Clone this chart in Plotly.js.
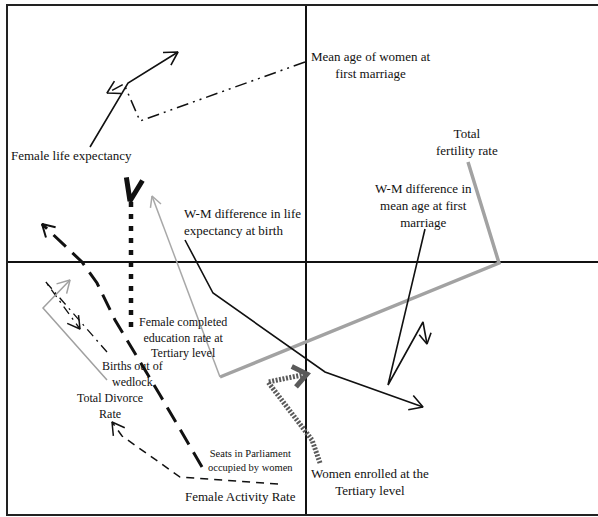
<!DOCTYPE html>
<html>
<head>
<meta charset="utf-8">
<script src="https://cdn.plot.ly/plotly-3.0.1.min.js"></script>
<style>html,body{margin:0;padding:0;background:#fff}</style>
</head>
<body>
<div id="plot" style="width:598px;height:517px"></div>
<script>
// trajectories on the first factorial plane (axis 1 = x, axis 2 = y)
var lifeExpX = [-216, -178, -128];
var lifeExpY = [115, 179, 210];

var marriageAgeX = [-1, -166, -182, -199];
var marriageAgeY = [200, 141, 178, 169];

var wmLifeX = [-121, -93, 19, 117];
var wmLifeY = [22, -31, -110, -145];

var wmMarriageX = [119, 82, 117, 121];
var wmMarriageY = [33, -123, -60, -82];

var fertilityX = [162, 193, -86, -154];
var fertilityY = [100, -1, -115, 66];

var enrolledX = [14, 6, -38, 1];
var enrolledY = [-201, -178, -120, -112];

var completedX = [-175, -175, -176];
var completedY = [-65, 66, 61];

var seatsX = [-104, -146, -191, -209, -224, -264];
var seatsY = [-205, -133, -58, -21, 0, 38];

var activityX = [-28, -126, -184, -194];
var activityY = [-222, -215, -174, -160];

var wedlockX = [-199, -261, -226];
var wedlockY = [-90, -19, -67];

var divorceX = [-199, -263, -236];
var divorceY = [-118, -46, -18];

// labels and where they sit on the plane
var labelText = ["Mean age of women at<br>first marriage", "Female life expectancy",
  "Total<br>fertility rate", "W-M difference in<br>mean age at first<br>marriage",
  "W-M difference in life<br>expectancy at birth",
  "Female completed<br>education rate at<br>Tertiary level",
  "Births out of<br>wedlock", "Total Divorce<br>Rate",
  "Seats in Parliament<br>occupied by women", "Female Activity Rate",
  "Women enrolled at the<br>Tertiary level"];
var labelX = [65, -235, 161, 117, -123, -123, -174, -196, -56, -66, 64];
var labelY = [197, 107, 120, 57, 40, -75, -112, -144, -198, -234, -220];
var labelSize = [13, 13, 13, 13, 13, 12, 12, 12, 10.5, 13, 13];

// open arrow head at the last point of a path
function head(xs, ys, len, half) {
  var n = xs.length, tx = xs[n - 1], ty = ys[n - 1];
  var a = Math.atan2(ys[n - 2] - ty, xs[n - 2] - tx);
  var r = half * Math.PI / 180;
  return {
    x: [tx + len * Math.cos(a + r), tx, tx + len * Math.cos(a - r)],
    y: [ty + len * Math.sin(a + r), ty, ty + len * Math.sin(a - r)]
  };
}

var data = [];
function addPath(xs, ys, color, width, dash, arrow) {
  data.push({x: xs, y: ys, mode: 'lines', type: 'scatter',
    line: {color: color, width: width, dash: dash}});
  if (arrow) {
    var h = head(xs, ys, arrow.len, arrow.half);
    data.push({x: h.x, y: h.y, mode: 'lines', type: 'scatter',
      line: {color: color, width: arrow.width || width}});
  }
}

addPath(fertilityX.slice(0, 3), fertilityY.slice(0, 3), '#a2a2a2', 3.5, 'solid');
addPath(fertilityX.slice(2), fertilityY.slice(2), '#a8a8a8', 1.5, 'solid', {len: 12, half: 28});
addPath(enrolledX, enrolledY, '#5a5a5a', 5, '2px,1.5px', {len: 17, half: 38});
addPath(lifeExpX, lifeExpY, '#111', 1.6, 'solid', {len: 15, half: 30});
addPath(marriageAgeX, marriageAgeY, '#111', 1.5, '12px,5px,2px,5px,2px,5px', {len: 14, half: 30, width: 1.6});
addPath(wmLifeX, wmLifeY, '#111', 1.6, 'solid', {len: 15, half: 30});
addPath(wmMarriageX, wmMarriageY, '#111', 1.6, 'solid', {len: 12, half: 30});
addPath(completedX, completedY, '#111', 4.5, '5px,7px', {len: 24, half: 20, width: 5});
addPath(seatsX, seatsY, '#111', 3, '17px,9px', {len: 14, half: 30, width: 2});
addPath(activityX, activityY, '#111', 1.5, '8px,6px', {len: 14, half: 30});
addPath(wedlockX, wedlockY, '#111', 1.3, '9px,5px,2px,5px', {len: 14, half: 30, width: 1.5});
addPath(divorceX, divorceY, '#a0a0a0', 1.5, 'solid', {len: 14, half: 30});

var annotations = labelText.map(function (t, i) {
  var left = (i === 4);
  return {
    x: labelX[i], y: labelY[i], text: t, showarrow: false,
    xanchor: left ? 'left' : 'center', yanchor: 'middle', align: left ? 'left' : 'center',
    borderpad: 0,
    font: {family: 'Liberation Serif, Times New Roman, serif', size: labelSize[i], color: '#111'}
  };
});

var layout = {
  width: 598, height: 517,
  margin: {l: 8, r: 0, t: 6, b: 3},
  showlegend: false,
  paper_bgcolor: '#fff', plot_bgcolor: '#fff',
  xaxis: {range: [-298, 292], showgrid: false, showticklabels: false, ticks: '',
    zeroline: true, zerolinecolor: '#111', zerolinewidth: 1.5,
    showline: true, linecolor: '#222', linewidth: 2, mirror: true, fixedrange: true},
  yaxis: {range: [-252, 256], showgrid: false, showticklabels: false, ticks: '',
    zeroline: true, zerolinecolor: '#111', zerolinewidth: 1.5,
    showline: true, linecolor: '#222', linewidth: 2, mirror: false, fixedrange: true},
  annotations: annotations
};

Plotly.newPlot('plot', data, layout, {staticPlot: true});
</script>
</body>
</html>
